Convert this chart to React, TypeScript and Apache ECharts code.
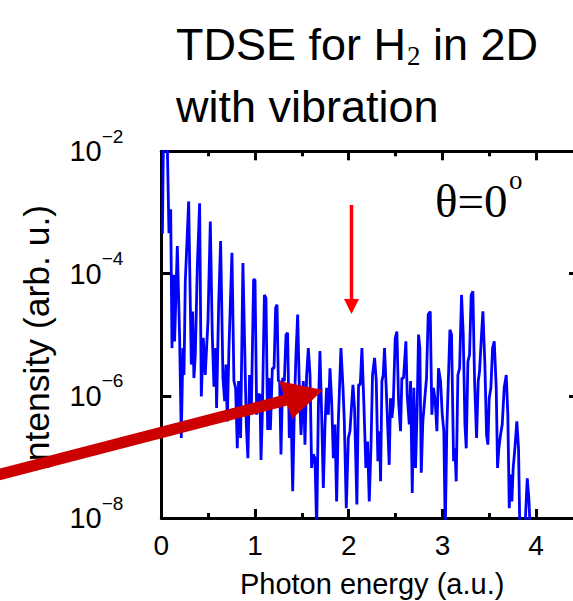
import React, { useEffect, useRef } from 'react';
import * as echarts from 'echarts';

// Photon energy (a.u.) of each vertex of the spectrum trace
const energy = [
  0.012, 0.022, 0.045, 0.064, 0.082, 0.1, 0.114, 0.132, 0.142, 0.171, 0.196, 0.213, 0.231, 0.242, 0.256,
  0.292, 0.32, 0.334, 0.348, 0.363, 0.384, 0.409, 0.427, 0.448, 0.469, 0.498, 0.523, 0.544, 0.562, 0.58,
  0.59, 0.612, 0.633, 0.658, 0.676, 0.69, 0.704, 0.722, 0.754, 0.775, 0.793, 0.811, 0.825, 0.846, 0.871,
  0.896, 0.907, 0.924, 0.942, 0.96, 0.985, 1.0,
  1.018, 1.036, 1.053, 1.064, 1.078, 1.1, 1.117, 1.135, 1.149, 1.164, 1.185, 1.203, 1.22, 1.235, 1.249,
  1.263, 1.277, 1.295, 1.313, 1.331, 1.348, 1.366, 1.384, 1.402, 1.42, 1.437, 1.455, 1.473, 1.491, 1.516,
  1.533, 1.551, 1.569, 1.587, 1.604, 1.622, 1.64, 1.658, 1.676, 1.693, 1.711, 1.729, 1.747, 1.764, 1.782,
  1.8, 1.818, 1.836, 1.853, 1.871, 1.889, 1.917, 1.939, 1.953, 1.974, 1.996, 2.013,
  2.045, 2.062, 2.087, 2.105, 2.123, 2.141, 2.162, 2.183, 2.201, 2.219, 2.237, 2.254, 2.276, 2.294, 2.311,
  2.329, 2.34, 2.354, 2.368, 2.382, 2.4, 2.414, 2.432, 2.446, 2.461, 2.475, 2.496, 2.514, 2.532, 2.553,
  2.567, 2.585, 2.61, 2.624, 2.646, 2.66, 2.678, 2.695, 2.713, 2.731, 2.745, 2.759, 2.774, 2.791, 2.809,
  2.83, 2.848, 2.87, 2.887, 2.905, 2.923, 2.941, 2.958, 2.98, 2.998, 3.015, 3.03, 3.047,
  3.08, 3.097, 3.119, 3.133, 3.147, 3.165, 3.183, 3.204, 3.222, 3.24, 3.254, 3.272, 3.289, 3.307, 3.325,
  3.343, 3.364, 3.382, 3.396, 3.417, 3.432, 3.453, 3.471, 3.485, 3.499, 3.517, 3.535, 3.553, 3.574, 3.588,
  3.602, 3.62, 3.638, 3.659, 3.681, 3.698, 3.713, 3.727, 3.741, 3.755, 3.773, 3.794, 3.812, 3.826, 3.844,
  3.858, 3.88, 3.905, 3.922, 3.937,
];

// log10 of the intensity (arb. u.) at each vertex
const logIntensity = [
  -3.35, -1.9, -1.9, -1.9, -3.34, -2.95, -5.22, -4.02, -5.11, -3.55, -5.08, -6.69, -5.22, -5.66, -4.13,
  -2.82, -5.49, -4.62, -5.71, -5.33, -3.91, -2.85, -6.01, -5.05, -5.66, -4.78, -3.15, -5.0, -5.85, -5.22,
  -6.2, -4.51, -3.47, -5.71, -6.09, -5.49, -6.42, -5.22, -3.66, -5.76, -5.87, -6.86, -5.76, -6.69, -3.83,
  -5.66, -6.47, -7.02, -5.66, -6.31, -4.1, -4.1,
  -6.31, -5.98, -5.98, -7.05, -6.31, -4.35, -4.4, -6.56, -5.71, -6.56, -5.55, -5.55, -4.56, -4.51, -5.76,
  -5.76, -6.96, -5.71, -5.76, -5.0, -4.97, -6.69, -6.2, -7.56, -6.2, -5.33, -4.67, -5.87, -6.64, -5.76,
  -6.8, -5.66, -5.22, -5.66, -7.18, -6.96, -7.02, -8.2, -6.2, -5.27, -6.31, -7.51, -6.47, -5.87, -6.31,
  -5.55, -6.09, -7.02, -6.47, -7.73, -6.42, -5.22, -5.87, -6.42, -7.84, -6.69, -6.58,
  -5.82, -6.2, -7.78, -5.82, -5.82, -5.22, -6.15, -7.18, -6.75, -7.73, -6.86, -5.66, -5.38, -5.76, -7.07,
  -6.58, -7.4, -5.76, -5.66, -5.22, -5.87, -6.42, -7.13, -6.04, -6.36, -6.15, -5.06, -4.95, -6.09, -6.58,
  -5.71, -5.71, -5.11, -5.98, -6.47, -5.76, -7.59, -5.87, -7.18, -6.15, -5.0, -5.22, -7.26, -6.42, -6.09,
  -5.71, -4.67, -4.62, -6.31, -5.87, -6.09, -6.58, -5.55, -5.76, -6.31, -6.58, -8.2, -6.53,
  -4.92, -5.0, -7.07, -6.86, -7.4, -5.66, -5.55, -4.35, -5.0, -6.47, -6.86, -5.44, -5.33, -4.35, -4.29,
  -5.76, -6.69, -5.76, -5.6, -5.0, -4.62, -5.49, -6.64, -6.8, -6.04, -5.87, -5.22, -5.11, -5.87, -7.18,
  -6.86, -6.64, -6.47, -5.87, -5.66, -6.31, -7.84, -7.29, -7.73, -7.18, -6.86, -6.42, -6.86, -8.2, -8.2,
  -8.2, -8.2, -7.35, -7.67, -8.2,
];

const xTickLabels = ['0', '1', '2', '3', '4'];
const yTickExponents = [-8, -6, -4, -2];

const titleLine1 = 'TDSE for H';
const titleSub = '2';
const titleLine1End = 'in 2D';
const titleLine2 = 'with vibration';
const angleText = 'θ=0';
const angleSup = 'o';
const yAxisTitle = 'Intensity (arb. u.)';
const xAxisTitle = 'Photon energy (a.u.)';

const SANS = 'Liberation Sans';
const SERIF = 'Liberation Serif';

export default function App() {
  const ref = useRef<HTMLDivElement>(null);

  useEffect(() => {
    if (!ref.current) return;
    const chart = echarts.init(ref.current, null, { renderer: 'svg' });
    const data = energy.map((e, i) => [e, Math.pow(10, logIntensity[i])]);

    const axisLineStyle = { color: '#000', width: 3 };
    const xBase = {
      type: 'value',
      min: 0,
      max: 4.5,
      splitLine: { show: false },
      axisLabel: { show: false },
    };

    const option: any = {
      animation: false,
      backgroundColor: '#ffffff',
      grid: {
        left: 161.3, top: 151.3, width: 421.7, height: 366.7,
        containLabel: false, outerBoundsMode: 'none',
      },
      xAxis: [
        {
          ...xBase,
          position: 'bottom',
          interval: 1,
          axisLine: { show: true, onZero: false, lineStyle: axisLineStyle },
          axisTick: { show: true, inside: true, length: 9, lineStyle: { color: '#000', width: 3 } },
          axisLabel: {
            show: true,
            margin: 13,
            fontSize: 28,
            fontFamily: SANS,
            color: '#000',
            formatter: (v: number) => {
              const s = String(v);
              return xTickLabels.indexOf(s) >= 0 ? s : '';
            },
          },
          name: xAxisTitle,
          nameLocation: 'middle',
          nameGap: 51,
          nameTextStyle: { fontSize: 29, fontFamily: SANS, color: '#000' },
        },
        {
          ...xBase,
          position: 'bottom',
          interval: 0.5,
          axisLine: { show: false, onZero: false },
          axisTick: { show: true, inside: true, length: 5, lineStyle: { color: '#000', width: 3 } },
        },
        {
          ...xBase,
          position: 'top',
          interval: 1,
          axisLine: { show: true, onZero: false, lineStyle: axisLineStyle },
          axisTick: { show: true, inside: true, length: 9, lineStyle: { color: '#000', width: 3 } },
        },
        {
          ...xBase,
          position: 'top',
          interval: 0.5,
          axisLine: { show: false, onZero: false },
          axisTick: { show: true, inside: true, length: 5, lineStyle: { color: '#000', width: 3 } },
        },
      ],
      yAxis: [
        {
          type: 'log',
          logBase: 10,
          min: 1e-8,
          max: 1e-2,
          interval: 2,
          position: 'left',
          splitLine: { show: false },
          minorTick: { show: false },
          axisLine: { show: true, onZero: false, lineStyle: axisLineStyle },
          axisTick: { show: true, inside: true, length: 10, lineStyle: { color: '#000', width: 3 } },
          axisLabel: {
            margin: 38,
            formatter: (v: number) => {
              const e = Math.round(Math.log10(v));
              if (yTickExponents.indexOf(e) < 0) return '';
              return '{b|10}{s|−' + Math.abs(e) + '}';
            },
            rich: {
              b: { fontSize: 29, fontFamily: SANS, color: '#000' },
              s: { fontSize: 19, fontFamily: SANS, color: '#000', padding: [0, 0, 30, 0] },
            },
          },
        },
        {
          type: 'log',
          logBase: 10,
          min: 1e-8,
          max: 1e-2,
          interval: 2,
          position: 'right',
          splitLine: { show: false },
          minorTick: { show: false },
          axisLine: { show: true, onZero: false, lineStyle: axisLineStyle },
          axisTick: { show: true, inside: true, length: 14, lineStyle: { color: '#000', width: 3 } },
          axisLabel: { show: false },
        },
      ],
      series: [
        {
          type: 'line',
          xAxisIndex: 0,
          yAxisIndex: 0,
          data,
          showSymbol: false,
          symbol: 'none',
          clip: true,
          lineStyle: { color: '#0000ff', width: 2.8 },
        },
      ],
      graphic: [
        {
          type: 'text', z: 50, x: 37, y: 338, rotation: Math.PI / 2,
          style: { text: yAxisTitle, fontSize: 35.5, fontFamily: SANS, fill: '#000', verticalAlign: 'middle', align: 'center' },
        },
        {
          type: 'text', z: 100, x: 176, y: 44,
          style: { text: titleLine1, fontSize: 45, fontFamily: SANS, fill: '#000', verticalAlign: 'middle', align: 'left' },
        },
        {
          type: 'text', z: 100, x: 407, y: 56,
          style: { text: titleSub, fontSize: 27, fontFamily: SERIF, fill: '#000', verticalAlign: 'middle', align: 'left' },
        },
        {
          type: 'text', z: 100, x: 433, y: 44,
          style: { text: titleLine1End, fontSize: 45, fontFamily: SANS, fill: '#000', verticalAlign: 'middle', align: 'left' },
        },
        {
          type: 'text', z: 100, x: 176, y: 106,
          style: { text: titleLine2, fontSize: 45, fontFamily: SANS, fill: '#000', verticalAlign: 'middle', align: 'left' },
        },
        {
          type: 'text', z: 100, x: 435, y: 201,
          style: { text: angleText, fontSize: 47, fontFamily: SERIF, fill: '#000', verticalAlign: 'middle', align: 'left' },
        },
        {
          type: 'text', z: 100, x: 509, y: 180,
          style: { text: angleSup, fontSize: 27, fontFamily: SERIF, fill: '#000', verticalAlign: 'middle', align: 'left' },
        },
        {
          type: 'line', z: 100,
          shape: { x1: 351.5, y1: 205, x2: 351.5, y2: 302 },
          style: { stroke: '#ff0000', lineWidth: 3.5 },
        },
        {
          type: 'polygon', z: 100,
          shape: { points: [[344, 299], [359, 299], [351.5, 314]] },
          style: { fill: '#ff0000' },
        },
        {
          type: 'line', z: 100,
          shape: { x1: -10, y1: 477, x2: 288, y2: 399.5 },
          style: { stroke: '#cc0000', lineWidth: 11.5 },
        },
        {
          type: 'polygon', z: 100,
          shape: { points: [[279, 381], [323, 390], [292, 419]] },
          style: { fill: '#cc0000' },
        },
      ],
    };

    chart.setOption(option);
    return () => {
      chart.dispose();
    };
  }, []);

  return (
    <div
      ref={ref}
      style={{ position: 'fixed', left: 0, top: 0, width: 573, height: 601, background: '#fff' }}
    />
  );
}
